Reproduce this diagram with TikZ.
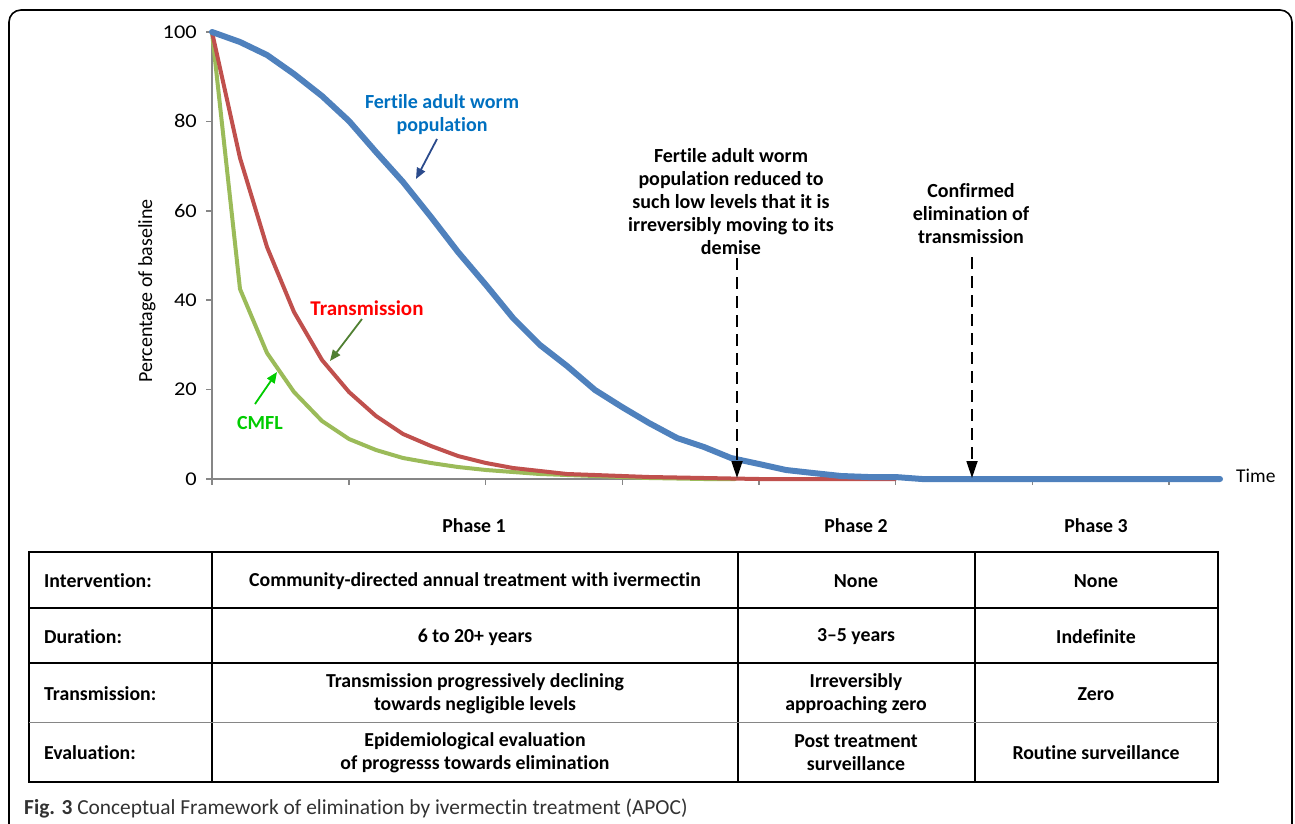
\documentclass[tikz,border=0pt]{standalone}
\usepackage{fontspec}
\setmainfont{Carlito}[Ligatures=NoCommon]
\usetikzlibrary{arrows.meta}
\definecolor{cblue}{RGB}{79,129,189}
\definecolor{cred}{RGB}{192,80,77}
\definecolor{cgreen}{RGB}{155,187,89}
\definecolor{lblue}{RGB}{0,112,192}
\definecolor{lred}{RGB}{255,0,0}
\definecolor{lgreen}{RGB}{0,204,0}
\definecolor{navyarrow}{RGB}{43,75,140}
\definecolor{darkgreenarrow}{RGB}{80,128,50}
\definecolor{axisgray}{RGB}{134,134,134}
\definecolor{captiongray}{RGB}{50,50,50}
\begin{document}
\begin{tikzpicture}[x=1pt,y=-1pt,
  axis/.style={axisgray,line width=1.5pt},
  curve/.style={line width=#1,line join=round,line cap=round},
  ticklbl/.style={anchor=east,inner sep=0pt,font=\fontsize{19.5}{19.5}\selectfont},
  callout/.style={align=center,font=\fontsize{20}{23}\selectfont\bfseries,inner sep=0pt},
  lblarrow/.style={line width=1.8pt,-{Triangle[length=11pt,width=9pt]}},
  dasharrow/.style={line width=1.8pt,dash pattern=on 12pt off 7pt,-{Triangle[length=17pt,width=11pt]}},
  tab/.style={line width=1.3pt},
  cell/.style={align=center,font=\fontsize{19.8}{23}\selectfont\bfseries,inner sep=0pt},
  rowlbl/.style={anchor=west,font=\fontsize{19.8}{23}\selectfont\bfseries,inner sep=0pt}]
\useasboundingbox (0,0) rectangle (1295,824);
% frame
\draw[line width=1.6pt,rounded corners=12pt] (9,850) -- (9,10) -- (1292,10) -- (1292,850);
% axes
\draw[axis] (212,32) -- (212,479) -- (1220,479);
\foreach \yy/\lab in {32/100,121.4/80,210.8/60,300.2/40,389.6/20,479/0}{
  \draw[axis] (206,\yy) -- (212,\yy);
  \node[ticklbl] at (197,\yy) {\scalebox{1.15}[1]{\lab}};
}
\foreach \xx in {212,349,485.6,622.3,759,895.6,1032.3,1169}{
  \draw[axis] (\xx,479) -- (\xx,485);
}
\node[rotate=90,font=\fontsize{20}{20}\selectfont,inner sep=0pt] (ylab) at (147,291) {Percentage of baseline};
\node[anchor=west,font=\fontsize{19.5}{19.5}\selectfont,inner sep=0pt] (time) at (1236,476) {Time};
% curves
\draw[cgreen,curve=4pt] (212,32) -- (240,289) -- (267,353) -- (294,392) -- (322,421) -- (349,439) -- (376,450) -- (403,458) -- (431,463) -- (458,467) -- (486,470) -- (513,472) -- (540,474) -- (567,475) -- (595,476) -- (622,477) -- (649,478) -- (677,478.5) -- (704,479) -- (735,479);
\draw[cred,curve=4pt] (212,32) -- (240,158) -- (267,247) -- (294,312) -- (322,360) -- (349,392) -- (376,416) -- (403,434) -- (431,446) -- (458,456) -- (486,463) -- (513,468) -- (540,471) -- (567,474) -- (595,475) -- (622,476) -- (649,477) -- (677,477.5) -- (704,478) -- (731,478.5) -- (759,479) -- (895,479);
\draw[cblue,curve=6pt] (212,32) -- (240,42) -- (267,55) -- (294,74) -- (322,96) -- (349,121) -- (376,152) -- (403,182) -- (431,217) -- (458,252) -- (486,285) -- (513,318) -- (540,345) -- (567,366) -- (595,390) -- (622,407) -- (649,423) -- (677,438) -- (704,447) -- (731,458) -- (759,464) -- (786,470) -- (813,473) -- (841,476) -- (868,477) -- (895,477) -- (922,479) -- (1220,479);
% callouts
\node[callout,text=lblue] (fawp) at (442,115) {Fertile adult worm\\population};
\coordinate (fawptip) at (416,179);
\draw[lblarrow,navyarrow] (437,139) -- (fawptip);
\node[callout,text=lred,font=\fontsize{21}{23}\selectfont\bfseries] (trans) at (367,308) {Transmission};
\coordinate (transtip) at (330,361);
\draw[lblarrow,darkgreenarrow] (362,319) -- (transtip);
\node[callout,text=lgreen] (cmfl) at (260,423) {CMFL};
\coordinate (cmfltip) at (277,372);
\draw[lblarrow,lgreen] (255,404) -- (cmfltip);
\node[callout] (demise) at (731,202) {Fertile adult worm\\population reduced to\\such low levels that it is\\irreversibly moving to its\\demise};
\coordinate (demisetip) at (737,478);
\draw[dasharrow] (737,258) -- (demisetip);
\node[callout] (confirm) at (971,214) {Confirmed\\elimination of\\transmission};
\coordinate (confirmtip) at (972,478);
\draw[dasharrow] (972,257) -- (confirmtip);
% phases
\node[cell] (p1) at (474,526) {Phase 1};
\node[cell] (p2) at (856,526) {Phase 2};
\node[cell] (p3) at (1096,526) {Phase 3};
% table
\draw[tab] (29,552) rectangle (1218,782);
\draw[tab] (212,552) -- (212,782);
\draw[tab] (738,552) -- (738,782);
\draw[tab] (975,552) -- (975,782);
\draw[tab] (29,608) -- (1218,608);
\draw[tab] (29,663) -- (1218,663);
\draw[line width=1.8pt,axisgray] (29,722.5) -- (1218,722.5);
\node[rowlbl] (r1) at (44,581) {Intervention:};
\node[rowlbl] (r2) at (44,637) {Duration:};
\node[rowlbl] (r3) at (44,694) {Transmission:};
\node[rowlbl] (r4) at (44,753) {Evaluation:};
\node[cell] (c11) at (475,581) {Community-directed annual treatment with ivermectin};
\node[cell] (c12) at (856,581) {None};
\node[cell] (c13) at (1096,581) {None};
\node[cell] (c21) at (475,637) {6 to 20+ years};
\node[cell] (c22) at (856,637) {3–5 years};
\node[cell] (c23) at (1096,637) {Indefinite};
\node[cell] (c31) at (475,694) {Transmission progressively declining\\towards negligible levels};
\node[cell] (c32) at (856,694) {Irreversibly\\approaching zero};
\node[cell] (c33) at (1096,694) {Zero};
\node[cell] (c41) at (475,753) {Epidemiological evaluation\\of progresss towards elimination};
\node[cell] (c42) at (856,753) {Post treatment\\surveillance};
\node[cell] (c43) at (1096,753) {Routine surveillance};
% caption
\node[anchor=west,inner sep=0pt,text=captiongray,font=\fontsize{21.4}{21.4}\selectfont] (cap) at (24,808) {\textbf{Fig. 3} Conceptual Framework of elimination by ivermectin treatment (APOC)};
\end{tikzpicture}
\end{document}
